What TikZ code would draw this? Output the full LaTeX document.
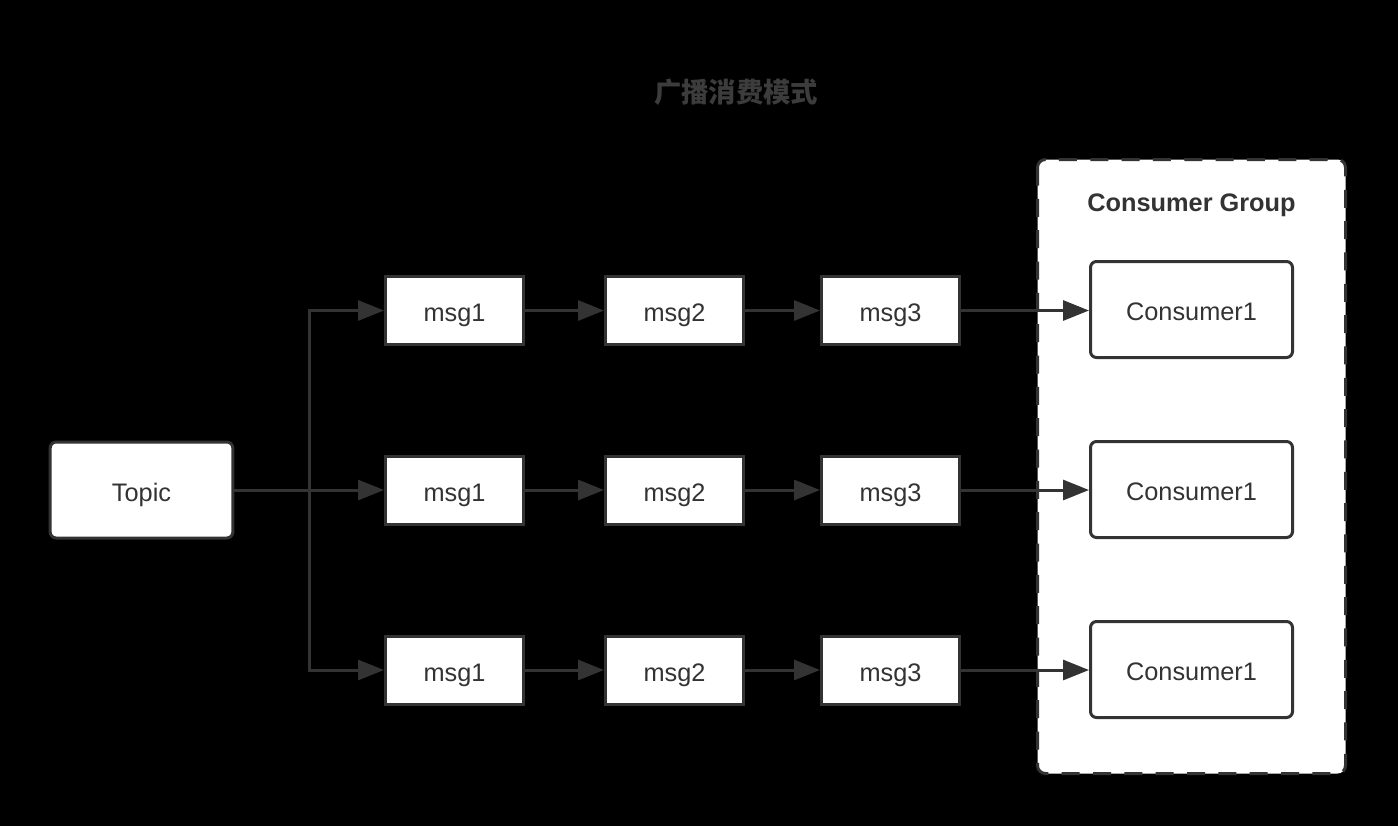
\documentclass[tikz,border=0pt]{standalone}
\usepackage{fontspec}
\setmainfont{Liberation Sans}
\newfontfamily\cjk{Noto Sans CJK SC}
\usetikzlibrary{arrows.meta}
\definecolor{linegray}{RGB}{51,51,51}
\definecolor{titlegray}{RGB}{60,60,60}
\tikzset{every picture/.style={line width=0.75pt}}

\begin{document}
\begin{tikzpicture}[x=0.75pt,y=0.75pt,yscale=-1,xscale=1,
  box/.style={draw=linegray, line width=2.25pt, fill=white, text=linegray, inner sep=0pt, text height=21pt, text depth=4pt, font=\fontsize{19}{22}\selectfont},
  topicbox/.style={box, rounded corners=4.5pt, minimum width=137pt, minimum height=72pt},
  msgbox/.style={box, minimum width=103.5pt, minimum height=51pt},
  consumerbox/.style={box, rounded corners=4.5pt, minimum width=151.5pt, minimum height=72pt},
  conn/.style={draw=linegray, line width=2.25pt, -{Triangle[length=19.5pt,width=15pt]}},
  plain/.style={draw=linegray, line width=2.25pt}]
%set diagram size 1398 x 826, black background
\fill [black] (0,0) rectangle (1398,826);
\useasboundingbox (0,0) rectangle (1398,826);

% Title
\node (title) at (736,92) [text=titlegray, font=\cjk\bfseries\fontsize{20.5}{24}\selectfont] {广播消费模式};

%Shape: Group (dashed)
\draw [draw=linegray, fill=white, line width=2.25pt, rounded corners=6pt, dash pattern={on 13.5pt off 10pt}] (1037.5,159.5) rectangle (1345.5,773.5);
\node (grouplabel) at (1191.5,205) [text=linegray, font=\bfseries\fontsize{19}{22}\selectfont] {Consumer Group};

% Topic
\node (topic) at (141.5,490) [topicbox] {Topic};
\coordinate (fork) at (309,490);

% Row 1
\node (m11) at (454.5,310.5) [msgbox] {msg1};
\node (m12) at (674.5,310.5) [msgbox] {msg2};
\node (m13) at (890.5,310.5) [msgbox] {msg3};
\node (c1) at (1191.5,309.5) [consumerbox] {Consumer1};
% Row 2
\node (m21) at (454.5,490) [msgbox] {msg1};
\node (m22) at (674.5,490) [msgbox] {msg2};
\node (m23) at (890.5,490) [msgbox] {msg3};
\node (c2) at (1191.5,489.5) [consumerbox] {Consumer1};
% Row 3
\node (m31) at (454.5,670) [msgbox] {msg1};
\node (m32) at (674.5,670) [msgbox] {msg2};
\node (m33) at (890.5,670) [msgbox] {msg3};
\node (c3) at (1191.5,669.5) [consumerbox] {Consumer1};

%Straight Lines: fan out from topic
\draw [plain] (topic.east) -- (fork);
\draw [conn] (fork) |- (m11.west);
\draw [conn] (fork) -- (m21.west);
\draw [conn] (fork) |- (m31.west);

%Straight Lines: message chains
\draw [conn] (m11) -- (m12);
\draw [conn] (m12) -- (m13);
\draw [conn] (m13.east) -- (m13.east -| c1.west);
\draw [conn] (m21) -- (m22);
\draw [conn] (m22) -- (m23);
\draw [conn] (m23.east) -- (m23.east -| c2.west);
\draw [conn] (m31) -- (m32);
\draw [conn] (m32) -- (m33);
\draw [conn] (m33.east) -- (m33.east -| c3.west);

\end{tikzpicture}
\end{document}
